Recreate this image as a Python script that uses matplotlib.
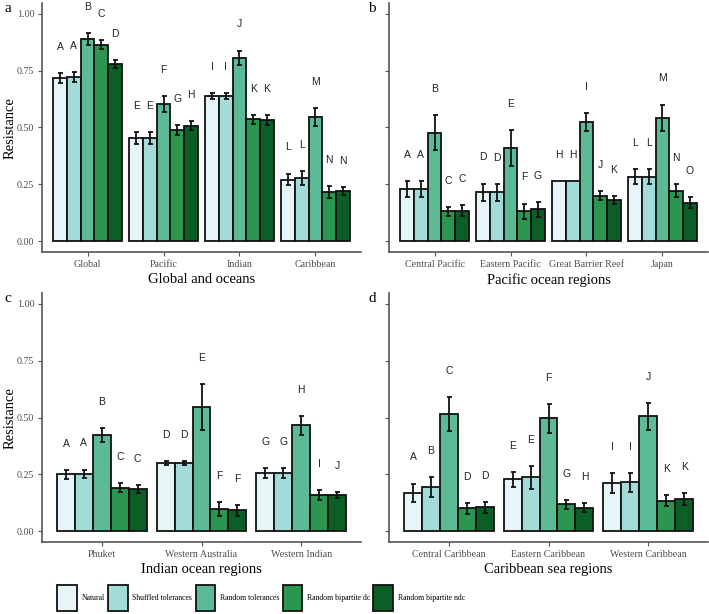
import matplotlib
matplotlib.use("Agg")
import matplotlib.pyplot as plt
import numpy as np
from matplotlib.patches import Patch

series = ["Natural", "Shuffled tolerances", "Random tolerances",
          "Random bipartite dc", "Random bipartite ndc"]
colors = ["#e6f5f8", "#a2dbd8", "#5cbb94", "#2a964f", "#0b5e26"]

# Panel a
cats_a = ["Global", "Pacific", "Indian", "Caribbean"]
mean_a = [[0.717, 0.722, 0.889, 0.864, 0.780],
          [0.455, 0.455, 0.605, 0.489, 0.507],
          [0.639, 0.639, 0.808, 0.536, 0.533],
          [0.271, 0.278, 0.545, 0.216, 0.219]]
se_a = [[0.022, 0.022, 0.026, 0.020, 0.018],
        [0.026, 0.026, 0.035, 0.022, 0.020],
        [0.012, 0.012, 0.031, 0.020, 0.020],
        [0.026, 0.032, 0.039, 0.025, 0.018]]
let_a = [["A", "A", "B", "C", "D"], ["E", "E", "F", "G", "H"],
         ["I", "I", "J", "K", "K"], ["L", "L", "M", "N", "N"]]

# Panel b
cats_b = ["Central Pacific", "Eastern Pacific", "Great Barrier Reef", "Japan"]
mean_b = [[0.231, 0.231, 0.477, 0.131, 0.133],
          [0.214, 0.214, 0.409, 0.131, 0.140],
          [0.265, 0.265, 0.523, 0.200, 0.180],
          [0.283, 0.283, 0.543, 0.221, 0.169]]
se_b = [[0.035, 0.035, 0.077, 0.020, 0.024],
        [0.039, 0.037, 0.079, 0.034, 0.033],
        [0.000, 0.000, 0.040, 0.020, 0.017],
        [0.034, 0.034, 0.058, 0.028, 0.025]]
let_b = [["A", "A", "B", "C", "C"], ["D", "D", "E", "F", "G"],
         ["H", "H", "I", "J", "K"], ["L", "L", "M", "N", "O"]]

# Panel c
cats_c = ["Phuket", "Western Australia", "Western Indian"]
mean_c = [[0.249, 0.252, 0.421, 0.191, 0.186],
          [0.300, 0.300, 0.545, 0.097, 0.091],
          [0.255, 0.255, 0.465, 0.159, 0.159]]
se_c = [[0.019, 0.019, 0.031, 0.021, 0.018],
        [0.007, 0.007, 0.102, 0.032, 0.023],
        [0.021, 0.021, 0.041, 0.023, 0.013]]
let_c = [["A", "A", "B", "C", "C"], ["D", "D", "E", "F", "F"],
         ["G", "G", "H", "I", "J"]]

# Panel d
cats_d = ["Central Caribbean", "Eastern Caribbean", "Western Caribbean"]
mean_d = [[0.169, 0.193, 0.515, 0.100, 0.105],
          [0.227, 0.237, 0.496, 0.118, 0.103],
          [0.211, 0.214, 0.505, 0.134, 0.141]]
se_d = [[0.040, 0.043, 0.075, 0.025, 0.024],
        [0.033, 0.051, 0.065, 0.019, 0.021],
        [0.043, 0.043, 0.060, 0.024, 0.026]]
let_d = [["A", "B", "C", "D", "D"], ["E", "E", "F", "G", "H"],
         ["I", "I", "J", "K", "K"]]

W, H = 709, 614
fig = plt.figure(figsize=(W / 100, H / 100), dpi=100)

SERIF = "Liberation Serif"
SANS = "Liberation Sans"
GRAY = "#4d4d4d"


def px_axes(x0, y0, x1, y1):
    return fig.add_axes([x0 / W, 1 - y1 / H, (x1 - x0) / W, (y1 - y0) / H])


def draw(ax, cats, means, ses, lets, xlabel, show_y):
    n = len(cats)
    bw = 0.9 / 5
    for i in range(n):
        for j in range(5):
            x = i + 1 + (j - 2) * bw
            m = means[i][j]
            s = ses[i][j]
            ax.bar(x, m, width=bw, color=colors[j], edgecolor="#111111",
                   linewidth=1.3, zorder=2)
            if s > 0:
                ax.errorbar(x, m, yerr=s, fmt="none", ecolor="#111111",
                            elinewidth=1.3, capsize=1.8, capthick=1.3, zorder=3)
            ax.text(x, m + s + 0.115, lets[i][j], ha="center", va="center",
                    fontsize=7.5, family=SANS, color="#222222")
    ax.set_xlim(0.4, n + 0.6)
    ax.set_ylim(-0.05, 1.05)
    ax.set_xticks(np.arange(1, n + 1))
    ax.set_xticklabels(cats, family=SERIF, fontsize=7.2, color=GRAY)
    ax.set_yticks([0, 0.25, 0.5, 0.75, 1.0])
    if show_y:
        ax.set_yticklabels(["0.00", "0.25", "0.50", "0.75", "1.00"],
                           family=SERIF, fontsize=7.2, color=GRAY)
    else:
        ax.set_yticklabels([])
    ax.set_xlabel(xlabel, family=SERIF, fontsize=10.5, labelpad=3)
    for sp in ["top", "right"]:
        ax.spines[sp].set_visible(False)
    for sp in ["left", "bottom"]:
        ax.spines[sp].set_color("#555555")
        ax.spines[sp].set_linewidth(1.2)
    ax.tick_params(axis="both", length=3, width=0.8, color="#555555", pad=2.5)
    ax.patch.set_alpha(0)


ax_a = px_axes(42, 2.6, 361, 252.4)
ax_b = px_axes(389, 2.6, 708, 252.4)
ax_c = px_axes(42, 292.6, 361, 542.4)
ax_d = px_axes(389, 292.6, 708, 542.4)

draw(ax_a, cats_a, mean_a, se_a, let_a, "Global and oceans", True)
draw(ax_b, cats_b, mean_b, se_b, let_b, "Pacific ocean regions", False)
draw(ax_c, cats_c, mean_c, se_c, let_c, "Indian ocean regions", True)
draw(ax_d, cats_d, mean_d, se_d, let_d, "Caribbean sea regions", False)

for yc in (128, 418):
    fig.text(10 / W, 1 - yc / H, "Resistance", family=SERIF, fontsize=10.5,
             rotation=90, ha="center", va="center")

for lab, (x, y) in zip("abcd", [(8, 9), (372, 9), (8, 299), (372, 299)]):
    fig.text(x / W, 1 - y / H, lab, family=SERIF, fontsize=11,
             ha="center", va="center")

handles = [Patch(facecolor=c, edgecolor="#111111", linewidth=1.3, label=s)
           for c, s in zip(colors, series)]
leg = fig.legend(handles=handles, loc="center", ncol=5,
                 bbox_to_anchor=(261 / W, 1 - 598 / H), frameon=False,
                 prop={"family": SERIF, "size": 5.6},
                 handlelength=2.55, handleheight=4.7, handletextpad=0.55,
                 columnspacing=0.45, borderaxespad=0, borderpad=0)

fig.savefig("out.png", dpi=100)
